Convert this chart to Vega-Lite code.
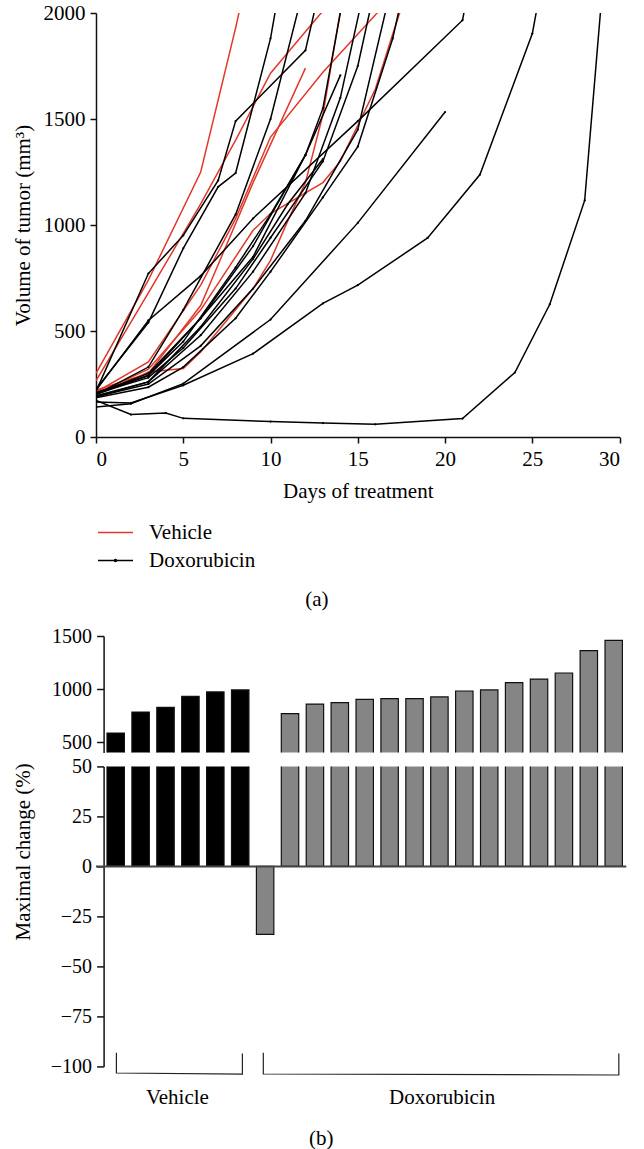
{
  "$schema": "https://vega.github.io/schema/vega-lite/v6.json",
  "background": "white",
  "padding": {"left": 12, "top": 2, "right": 5, "bottom": 0},
  "config": {
    "font": "Liberation Serif",
    "view": {"stroke": null},
    "axis": {
      "labelFont": "Liberation Serif", "titleFont": "Liberation Serif",
      "labelFontSize": 21, "titleFontSize": 21, "titleFontWeight": "normal",
      "labelColor": "#000", "titleColor": "#000",
      "domainColor": "#111", "tickColor": "#111",
      "domainWidth": 1.5, "tickWidth": 1.5, "tickSize": 6,
      "grid": false, "labelPadding": 5
    },
    "legend": {"padding": 0},
    "title": {"font": "Liberation Serif", "fontSize": 21, "fontWeight": "normal", "color": "#000"}
  },
  "datasets": {
    "growth": [
      {"g": "Vehicle", "id": "V1", "day": 0, "v": 300}, {"g": "Vehicle", "id": "V1", "day": 3, "v": 740}, {"g": "Vehicle", "id": "V1", "day": 6, "v": 1250}, {"g": "Vehicle", "id": "V1", "day": 8, "v": 1930}, {"g": "Vehicle", "id": "V1", "day": 9, "v": 2300},
      {"g": "Vehicle", "id": "V2", "day": 0, "v": 265}, {"g": "Vehicle", "id": "V2", "day": 3, "v": 680}, {"g": "Vehicle", "id": "V2", "day": 6, "v": 1100}, {"g": "Vehicle", "id": "V2", "day": 8, "v": 1400}, {"g": "Vehicle", "id": "V2", "day": 10, "v": 1716}, {"g": "Vehicle", "id": "V2", "day": 13, "v": 2010},
      {"g": "Vehicle", "id": "V3", "day": 0, "v": 212}, {"g": "Vehicle", "id": "V3", "day": 3, "v": 354}, {"g": "Vehicle", "id": "V3", "day": 6, "v": 716}, {"g": "Vehicle", "id": "V3", "day": 8, "v": 1030}, {"g": "Vehicle", "id": "V3", "day": 10, "v": 1415}, {"g": "Vehicle", "id": "V3", "day": 13, "v": 1720}, {"g": "Vehicle", "id": "V3", "day": 16, "v": 1990}, {"g": "Vehicle", "id": "V3", "day": 17, "v": 2090},
      {"g": "Vehicle", "id": "V4", "day": 0, "v": 222}, {"g": "Vehicle", "id": "V4", "day": 3, "v": 300}, {"g": "Vehicle", "id": "V4", "day": 6, "v": 620}, {"g": "Vehicle", "id": "V4", "day": 9, "v": 1200}, {"g": "Vehicle", "id": "V4", "day": 12, "v": 1740},
      {"g": "Vehicle", "id": "V5", "day": 0, "v": 212}, {"g": "Vehicle", "id": "V5", "day": 2, "v": 267}, {"g": "Vehicle", "id": "V5", "day": 3, "v": 307}, {"g": "Vehicle", "id": "V5", "day": 5, "v": 323}, {"g": "Vehicle", "id": "V5", "day": 6, "v": 401}, {"g": "Vehicle", "id": "V5", "day": 9, "v": 700}, {"g": "Vehicle", "id": "V5", "day": 10, "v": 833}, {"g": "Vehicle", "id": "V5", "day": 11, "v": 1022}, {"g": "Vehicle", "id": "V5", "day": 12, "v": 1200}, {"g": "Vehicle", "id": "V5", "day": 13, "v": 1520}, {"g": "Vehicle", "id": "V5", "day": 14, "v": 2010}, {"g": "Vehicle", "id": "V5", "day": 15, "v": 2500},
      {"g": "Vehicle", "id": "V6", "day": 0, "v": 205}, {"g": "Vehicle", "id": "V6", "day": 3, "v": 320}, {"g": "Vehicle", "id": "V6", "day": 6, "v": 600}, {"g": "Vehicle", "id": "V6", "day": 9, "v": 975}, {"g": "Vehicle", "id": "V6", "day": 10, "v": 1054}, {"g": "Vehicle", "id": "V6", "day": 13, "v": 1200}, {"g": "Vehicle", "id": "V6", "day": 14, "v": 1300}, {"g": "Vehicle", "id": "V6", "day": 16, "v": 1640}, {"g": "Vehicle", "id": "V6", "day": 17, "v": 1900}, {"g": "Vehicle", "id": "V6", "day": 18, "v": 2150},
      {"g": "Doxorubicin", "id": "D01", "day": 0, "v": 173}, {"g": "Doxorubicin", "id": "D01", "day": 2, "v": 106}, {"g": "Doxorubicin", "id": "D01", "day": 4, "v": 113}, {"g": "Doxorubicin", "id": "D01", "day": 5, "v": 88}, {"g": "Doxorubicin", "id": "D01", "day": 10, "v": 73}, {"g": "Doxorubicin", "id": "D01", "day": 13, "v": 66}, {"g": "Doxorubicin", "id": "D01", "day": 16, "v": 60}, {"g": "Doxorubicin", "id": "D01", "day": 21, "v": 87}, {"g": "Doxorubicin", "id": "D01", "day": 24, "v": 304}, {"g": "Doxorubicin", "id": "D01", "day": 26, "v": 626}, {"g": "Doxorubicin", "id": "D01", "day": 28, "v": 1116}, {"g": "Doxorubicin", "id": "D01", "day": 29, "v": 2100},
      {"g": "Doxorubicin", "id": "D02", "day": 0, "v": 165}, {"g": "Doxorubicin", "id": "D02", "day": 2, "v": 160}, {"g": "Doxorubicin", "id": "D02", "day": 5, "v": 244}, {"g": "Doxorubicin", "id": "D02", "day": 9, "v": 393}, {"g": "Doxorubicin", "id": "D02", "day": 13, "v": 630}, {"g": "Doxorubicin", "id": "D02", "day": 15, "v": 716}, {"g": "Doxorubicin", "id": "D02", "day": 19, "v": 939}, {"g": "Doxorubicin", "id": "D02", "day": 22, "v": 1238}, {"g": "Doxorubicin", "id": "D02", "day": 25, "v": 1903}, {"g": "Doxorubicin", "id": "D02", "day": 26, "v": 2350},
      {"g": "Doxorubicin", "id": "D03", "day": 0, "v": 142}, {"g": "Doxorubicin", "id": "D03", "day": 2, "v": 157}, {"g": "Doxorubicin", "id": "D03", "day": 5, "v": 252}, {"g": "Doxorubicin", "id": "D03", "day": 10, "v": 554}, {"g": "Doxorubicin", "id": "D03", "day": 15, "v": 1010}, {"g": "Doxorubicin", "id": "D03", "day": 20, "v": 1533},
      {"g": "Doxorubicin", "id": "D04", "day": 0, "v": 220}, {"g": "Doxorubicin", "id": "D04", "day": 3, "v": 550}, {"g": "Doxorubicin", "id": "D04", "day": 6, "v": 760}, {"g": "Doxorubicin", "id": "D04", "day": 9, "v": 1031}, {"g": "Doxorubicin", "id": "D04", "day": 15, "v": 1490}, {"g": "Doxorubicin", "id": "D04", "day": 21, "v": 1966}, {"g": "Doxorubicin", "id": "D04", "day": 22, "v": 2400},
      {"g": "Doxorubicin", "id": "D05", "day": 0, "v": 215}, {"g": "Doxorubicin", "id": "D05", "day": 3, "v": 771}, {"g": "Doxorubicin", "id": "D05", "day": 5, "v": 951}, {"g": "Doxorubicin", "id": "D05", "day": 7, "v": 1210}, {"g": "Doxorubicin", "id": "D05", "day": 8, "v": 1490}, {"g": "Doxorubicin", "id": "D05", "day": 12, "v": 1824}, {"g": "Doxorubicin", "id": "D05", "day": 13, "v": 2180},
      {"g": "Doxorubicin", "id": "D06", "day": 0, "v": 205}, {"g": "Doxorubicin", "id": "D06", "day": 3, "v": 300}, {"g": "Doxorubicin", "id": "D06", "day": 6, "v": 560}, {"g": "Doxorubicin", "id": "D06", "day": 9, "v": 850}, {"g": "Doxorubicin", "id": "D06", "day": 12, "v": 1330}, {"g": "Doxorubicin", "id": "D06", "day": 14, "v": 1706},
      {"g": "Doxorubicin", "id": "D07", "day": 0, "v": 225}, {"g": "Doxorubicin", "id": "D07", "day": 3, "v": 540}, {"g": "Doxorubicin", "id": "D07", "day": 5, "v": 890}, {"g": "Doxorubicin", "id": "D07", "day": 7, "v": 1180}, {"g": "Doxorubicin", "id": "D07", "day": 8, "v": 1245}, {"g": "Doxorubicin", "id": "D07", "day": 10, "v": 1880}, {"g": "Doxorubicin", "id": "D07", "day": 11, "v": 2350},
      {"g": "Doxorubicin", "id": "D08", "day": 0, "v": 200}, {"g": "Doxorubicin", "id": "D08", "day": 3, "v": 330}, {"g": "Doxorubicin", "id": "D08", "day": 5, "v": 600}, {"g": "Doxorubicin", "id": "D08", "day": 8, "v": 1050}, {"g": "Doxorubicin", "id": "D08", "day": 10, "v": 1500}, {"g": "Doxorubicin", "id": "D08", "day": 12, "v": 2150},
      {"g": "Doxorubicin", "id": "D09", "day": 0, "v": 210}, {"g": "Doxorubicin", "id": "D09", "day": 3, "v": 290}, {"g": "Doxorubicin", "id": "D09", "day": 6, "v": 560}, {"g": "Doxorubicin", "id": "D09", "day": 9, "v": 900}, {"g": "Doxorubicin", "id": "D09", "day": 12, "v": 1330}, {"g": "Doxorubicin", "id": "D09", "day": 13, "v": 1550}, {"g": "Doxorubicin", "id": "D09", "day": 15, "v": 2450},
      {"g": "Doxorubicin", "id": "D10", "day": 0, "v": 195}, {"g": "Doxorubicin", "id": "D10", "day": 3, "v": 260}, {"g": "Doxorubicin", "id": "D10", "day": 6, "v": 480}, {"g": "Doxorubicin", "id": "D10", "day": 9, "v": 780}, {"g": "Doxorubicin", "id": "D10", "day": 12, "v": 1150}, {"g": "Doxorubicin", "id": "D10", "day": 14, "v": 1600}, {"g": "Doxorubicin", "id": "D10", "day": 16, "v": 2350},
      {"g": "Doxorubicin", "id": "D11", "day": 0, "v": 205}, {"g": "Doxorubicin", "id": "D11", "day": 3, "v": 280}, {"g": "Doxorubicin", "id": "D11", "day": 5, "v": 420}, {"g": "Doxorubicin", "id": "D11", "day": 8, "v": 700}, {"g": "Doxorubicin", "id": "D11", "day": 10, "v": 940}, {"g": "Doxorubicin", "id": "D11", "day": 13, "v": 1300}, {"g": "Doxorubicin", "id": "D11", "day": 15, "v": 1750}, {"g": "Doxorubicin", "id": "D11", "day": 17, "v": 2500},
      {"g": "Doxorubicin", "id": "D12", "day": 0, "v": 190}, {"g": "Doxorubicin", "id": "D12", "day": 3, "v": 250}, {"g": "Doxorubicin", "id": "D12", "day": 6, "v": 430}, {"g": "Doxorubicin", "id": "D12", "day": 9, "v": 700}, {"g": "Doxorubicin", "id": "D12", "day": 12, "v": 1020}, {"g": "Doxorubicin", "id": "D12", "day": 15, "v": 1450}, {"g": "Doxorubicin", "id": "D12", "day": 17, "v": 2150},
      {"g": "Doxorubicin", "id": "D13", "day": 0, "v": 185}, {"g": "Doxorubicin", "id": "D13", "day": 3, "v": 235}, {"g": "Doxorubicin", "id": "D13", "day": 5, "v": 330}, {"g": "Doxorubicin", "id": "D13", "day": 8, "v": 560}, {"g": "Doxorubicin", "id": "D13", "day": 10, "v": 780}, {"g": "Doxorubicin", "id": "D13", "day": 13, "v": 1130}, {"g": "Doxorubicin", "id": "D13", "day": 15, "v": 1370}, {"g": "Doxorubicin", "id": "D13", "day": 17, "v": 1880}, {"g": "Doxorubicin", "id": "D13", "day": 18, "v": 2250},
      {"g": "Doxorubicin", "id": "D14", "day": 0, "v": 200}, {"g": "Doxorubicin", "id": "D14", "day": 3, "v": 290}, {"g": "Doxorubicin", "id": "D14", "day": 5, "v": 450}, {"g": "Doxorubicin", "id": "D14", "day": 8, "v": 800}, {"g": "Doxorubicin", "id": "D14", "day": 10, "v": 1050}, {"g": "Doxorubicin", "id": "D14", "day": 12, "v": 1330},
      {"g": "Doxorubicin", "id": "D15", "day": 0, "v": 190}, {"g": "Doxorubicin", "id": "D15", "day": 3, "v": 260}, {"g": "Doxorubicin", "id": "D15", "day": 6, "v": 520}, {"g": "Doxorubicin", "id": "D15", "day": 9, "v": 840}, {"g": "Doxorubicin", "id": "D15", "day": 11, "v": 1100}, {"g": "Doxorubicin", "id": "D15", "day": 13, "v": 1311}
    ],
    "bars": [
      {"bar": "b01", "g": "Vehicle", "pct": 585}, {"bar": "b02", "g": "Vehicle", "pct": 783}, {"bar": "b03", "g": "Vehicle", "pct": 827},
      {"bar": "b04", "g": "Vehicle", "pct": 931}, {"bar": "b05", "g": "Vehicle", "pct": 972}, {"bar": "b06", "g": "Vehicle", "pct": 991},
      {"bar": "b07", "g": "Doxorubicin", "pct": -34}, {"bar": "b08", "g": "Doxorubicin", "pct": 768}, {"bar": "b09", "g": "Doxorubicin", "pct": 858},
      {"bar": "b10", "g": "Doxorubicin", "pct": 872}, {"bar": "b11", "g": "Doxorubicin", "pct": 903}, {"bar": "b12", "g": "Doxorubicin", "pct": 909},
      {"bar": "b13", "g": "Doxorubicin", "pct": 909}, {"bar": "b14", "g": "Doxorubicin", "pct": 925}, {"bar": "b15", "g": "Doxorubicin", "pct": 981},
      {"bar": "b16", "g": "Doxorubicin", "pct": 991}, {"bar": "b17", "g": "Doxorubicin", "pct": 1060}, {"bar": "b18", "g": "Doxorubicin", "pct": 1094},
      {"bar": "b19", "g": "Doxorubicin", "pct": 1151}, {"bar": "b20", "g": "Doxorubicin", "pct": 1362}, {"bar": "b21", "g": "Doxorubicin", "pct": 1459}
    ],
    "brackets": [
      {"grp": "Vehicle", "k": 0, "slot": 0.82, "pos": -93.2}, {"grp": "Vehicle", "k": 1, "slot": 0.82, "pos": -103.3},
      {"grp": "Vehicle", "k": 2, "slot": 5.88, "pos": -103.9}, {"grp": "Vehicle", "k": 3, "slot": 5.88, "pos": -93.5},
      {"grp": "Doxorubicin", "k": 0, "slot": 6.72, "pos": -93.2}, {"grp": "Doxorubicin", "k": 1, "slot": 6.72, "pos": -103.8},
      {"grp": "Doxorubicin", "k": 2, "slot": 21.0, "pos": -104.3}, {"grp": "Doxorubicin", "k": 3, "slot": 21.0, "pos": -93.5}
    ],
    "groups": [
      {"grp": "Vehicle", "slot": 3.27, "pos": -115.7},
      {"grp": "Doxorubicin", "slot": 13.9, "pos": -115.7}
    ]
  },
  "bounds": "flush",
  "spacing": 199,
  "vconcat": [
    {
      "width": 523.6,
      "height": 424,
      "title": {"text": "(a)", "orient": "bottom", "anchor": "middle", "dx": -41, "offset": 88},
      "data": {"name": "growth"},
      "layer": [
        {
          "mark": {"type": "line", "clip": true, "strokeWidth": 1.5},
          "encoding": {
            "x": {
              "field": "day", "type": "quantitative",
              "scale": {"domain": [0, 30], "nice": false},
              "axis": {"values": [0, 5, 10, 15, 20, 25, 30], "format": "d", "title": "Days of treatment", "labelPadding": 5, "titlePadding": 11}
            },
            "y": {
              "field": "v", "type": "quantitative",
              "scale": {"domain": [0, 2000], "nice": false},
              "axis": {"values": [0, 500, 1000, 1500, 2000], "format": "d", "title": "Volume of tumor (mm³)", "titleX": -63}
            },
            "color": {
              "field": "g", "type": "nominal",
              "scale": {"domain": ["Vehicle", "Doxorubicin"], "range": ["#e2382b", "#000000"]},
              "legend": {
                "title": null, "orient": "none", "legendX": 9, "legendY": 509,
                "symbolType": "M-2,0H2", "symbolSize": 306, "symbolStrokeWidth": 1.5,
                "labelFont": "Liberation Serif", "labelFontSize": 21, "labelColor": "#000",
                "labelOffset": 23, "rowPadding": 6,
                "encode": {
                  "symbols": {
                    "update": {
                      "shape": {"signal": "datum.value === 'Doxorubicin' ? 'M-2,0H2M-0.12,0A0.12,0.12 0 1,0 0.12,0A0.12,0.12 0 1,0 -0.12,0' : 'M-2,0H2'"}
                    }
                  }
                }
              }
            },
            "detail": {"field": "id"},
            "order": {"field": "day"}
          }
        },
        {
          "transform": [{"filter": "datum.g === 'Doxorubicin'"}],
          "mark": {"type": "point", "filled": true, "clip": true, "size": 5, "color": "#000", "opacity": 1},
          "encoding": {
            "x": {"field": "day", "type": "quantitative"},
            "y": {"field": "v", "type": "quantitative"}
          }
        }
      ]
    },
    {
      "bounds": "flush",
      "spacing": 13.4,
      "vconcat": [
        {
          "width": 530.3,
          "height": 116.6,
          "data": {"name": "bars"},
          "mark": {"type": "bar", "clip": true, "stroke": "#111", "strokeWidth": 1.2},
          "encoding": {
            "x": {
              "field": "bar", "type": "nominal", "sort": null, "axis": null,
              "scale": {"paddingInner": 0.3, "paddingOuter": 0.2985, "align": 0.74}
            },
            "y": {
              "field": "pct", "type": "quantitative",
              "scale": {"domain": [400, 1500], "nice": false, "zero": false},
              "axis": {"values": [500, 1000, 1500], "format": "d", "title": null, "offset": -7.6, "labelFontSize": 20, "tickSize": 7, "labelPadding": 5}
            },
            "y2": {"datum": 0},
            "fill": {
              "field": "g", "type": "nominal",
              "scale": {"domain": ["Vehicle", "Doxorubicin"], "range": ["#000000", "#858585"]},
              "legend": null
            }
          }
        },
        {
          "width": 530.3,
          "height": 300,
          "title": {"text": "(b)", "orient": "bottom", "anchor": "middle", "dx": -40, "offset": 20},
          "resolve": {"scale": {"x": "independent"}},
          "layer": [
            {
              "data": {"name": "bars"},
              "mark": {"type": "bar", "clip": true, "stroke": "#111", "strokeWidth": 1.2},
              "encoding": {
                "x": {
                  "field": "bar", "type": "nominal", "sort": null, "axis": null,
                  "scale": {"paddingInner": 0.3, "paddingOuter": 0.2985, "align": 0.74}
                },
                "y": {
                  "field": "pct", "type": "quantitative",
                  "scale": {"domain": [-100, 50], "nice": false},
                  "axis": {
                    "values": [-100, -75, -50, -25, 0, 25, 50], "format": "d", "title": "Maximal change (%)",
                    "offset": -7.6, "labelFontSize": 20, "tickSize": 7, "labelPadding": 5,
                    "titleX": -70, "titleY": 85
                  }
                },
                "y2": {"datum": 0},
                "fill": {
                  "field": "g", "type": "nominal",
                  "scale": {"domain": ["Vehicle", "Doxorubicin"], "range": ["#000000", "#858585"]},
                  "legend": null
                }
              }
            },
            {
              "data": {"values": [{}]},
              "mark": {"type": "rule", "color": "#444", "strokeWidth": 2},
              "encoding": {"y": {"datum": 0, "type": "quantitative"}}
            },
            {
              "data": {"name": "brackets"},
              "mark": {"type": "line", "color": "#222", "strokeWidth": 1.2},
              "encoding": {
                "x": {"field": "slot", "type": "quantitative", "scale": {"domain": [0, 21.3], "nice": false, "zero": false}, "axis": null},
                "y": {"field": "pos", "type": "quantitative"},
                "detail": {"field": "grp"},
                "order": {"field": "k"}
              }
            },
            {
              "data": {"name": "groups"},
              "mark": {"type": "text", "font": "Liberation Serif", "fontSize": 21, "baseline": "middle", "align": "center", "color": "#000"},
              "encoding": {
                "x": {"field": "slot", "type": "quantitative", "scale": {"domain": [0, 21.3], "nice": false, "zero": false}, "axis": null},
                "y": {"field": "pos", "type": "quantitative"},
                "text": {"field": "grp"}
              }
            }
          ]
        }
      ]
    }
  ]
}
